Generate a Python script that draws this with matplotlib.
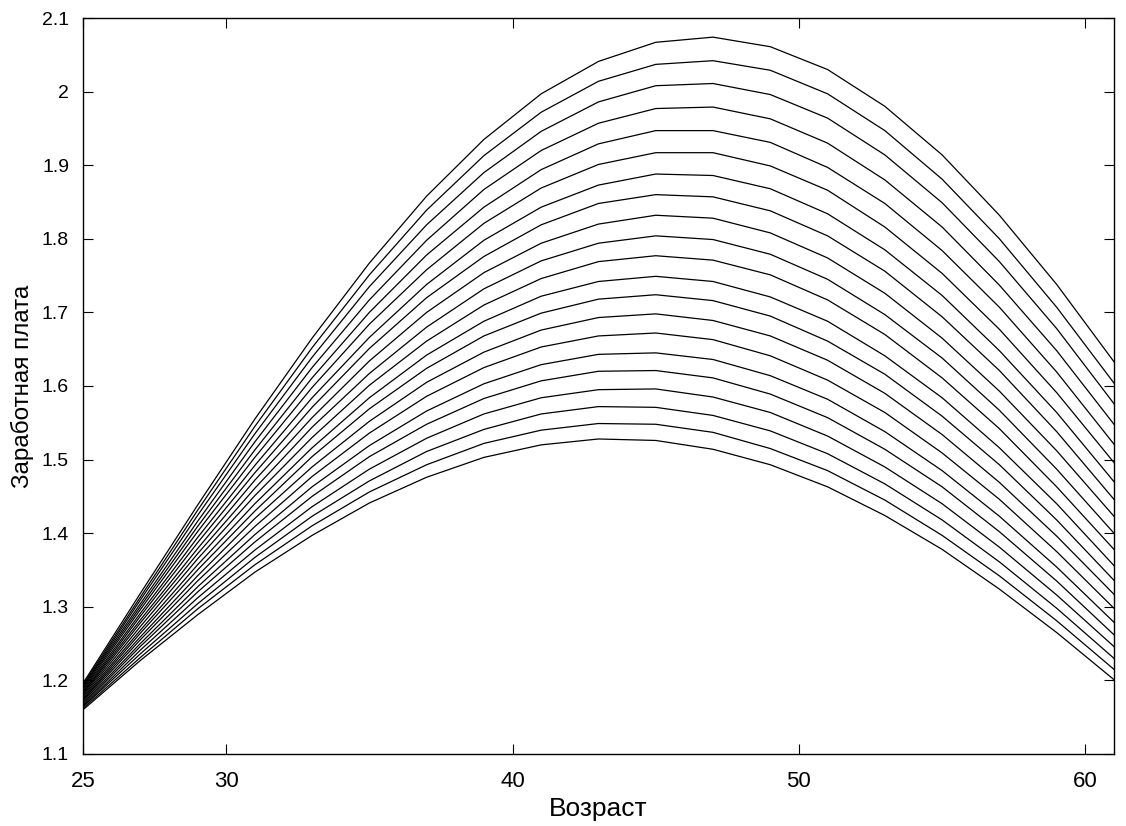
import matplotlib
matplotlib.use("Agg")
import matplotlib.pyplot as plt

ages = [25, 27, 29, 31, 33, 35, 37, 39, 41, 43, 45, 47, 49, 51, 53, 55, 57, 59, 61]

# wage profiles, bottom curve first
w01 = [1.160, 1.227, 1.289, 1.347, 1.397, 1.441, 1.476, 1.503, 1.520, 1.528, 1.526, 1.514, 1.493, 1.463, 1.424, 1.378, 1.324, 1.265, 1.201]
w02 = [1.162, 1.231, 1.297, 1.357, 1.410, 1.456, 1.493, 1.522, 1.540, 1.549, 1.548, 1.537, 1.515, 1.485, 1.445, 1.397, 1.342, 1.281, 1.215]
w03 = [1.164, 1.236, 1.304, 1.367, 1.423, 1.471, 1.511, 1.541, 1.562, 1.572, 1.571, 1.560, 1.539, 1.508, 1.467, 1.418, 1.361, 1.298, 1.230]
w04 = [1.165, 1.241, 1.312, 1.377, 1.436, 1.487, 1.529, 1.562, 1.584, 1.595, 1.596, 1.585, 1.564, 1.532, 1.490, 1.440, 1.381, 1.316, 1.246]
w05 = [1.167, 1.246, 1.320, 1.388, 1.450, 1.504, 1.548, 1.583, 1.607, 1.620, 1.621, 1.611, 1.589, 1.557, 1.514, 1.463, 1.402, 1.335, 1.262]
w06 = [1.169, 1.250, 1.327, 1.398, 1.463, 1.519, 1.566, 1.603, 1.629, 1.643, 1.645, 1.636, 1.614, 1.582, 1.538, 1.485, 1.423, 1.354, 1.279]
w07 = [1.171, 1.255, 1.335, 1.409, 1.477, 1.536, 1.586, 1.625, 1.653, 1.668, 1.672, 1.663, 1.641, 1.608, 1.564, 1.509, 1.446, 1.375, 1.298]
w08 = [1.173, 1.259, 1.342, 1.420, 1.490, 1.552, 1.605, 1.646, 1.676, 1.693, 1.698, 1.689, 1.668, 1.635, 1.590, 1.534, 1.469, 1.396, 1.317]
w09 = [1.174, 1.264, 1.350, 1.430, 1.504, 1.569, 1.624, 1.668, 1.699, 1.718, 1.724, 1.716, 1.695, 1.661, 1.616, 1.559, 1.493, 1.418, 1.336]
w10 = [1.176, 1.268, 1.357, 1.440, 1.516, 1.584, 1.642, 1.688, 1.722, 1.742, 1.749, 1.742, 1.721, 1.688, 1.641, 1.584, 1.516, 1.440, 1.356]
w11 = [1.178, 1.273, 1.365, 1.451, 1.530, 1.601, 1.661, 1.710, 1.746, 1.769, 1.777, 1.771, 1.751, 1.717, 1.670, 1.611, 1.542, 1.463, 1.378]
w12 = [1.180, 1.278, 1.372, 1.461, 1.544, 1.617, 1.680, 1.732, 1.770, 1.794, 1.804, 1.799, 1.779, 1.745, 1.697, 1.638, 1.567, 1.487, 1.400]
w13 = [1.182, 1.282, 1.379, 1.472, 1.557, 1.634, 1.700, 1.754, 1.794, 1.820, 1.832, 1.828, 1.808, 1.774, 1.726, 1.665, 1.593, 1.512, 1.423]
w14 = [1.183, 1.287, 1.387, 1.482, 1.571, 1.651, 1.720, 1.776, 1.819, 1.848, 1.860, 1.857, 1.838, 1.804, 1.756, 1.694, 1.621, 1.538, 1.446]
w15 = [1.185, 1.291, 1.394, 1.492, 1.584, 1.666, 1.738, 1.798, 1.843, 1.873, 1.888, 1.886, 1.868, 1.834, 1.785, 1.723, 1.648, 1.564, 1.470]
w16 = [1.187, 1.296, 1.402, 1.503, 1.598, 1.684, 1.758, 1.821, 1.869, 1.901, 1.917, 1.917, 1.899, 1.866, 1.816, 1.753, 1.677, 1.591, 1.496]
w17 = [1.189, 1.300, 1.409, 1.513, 1.611, 1.700, 1.778, 1.843, 1.894, 1.929, 1.947, 1.947, 1.931, 1.897, 1.848, 1.784, 1.707, 1.619, 1.521]
w18 = [1.191, 1.304, 1.416, 1.524, 1.625, 1.717, 1.798, 1.867, 1.920, 1.957, 1.977, 1.979, 1.963, 1.930, 1.880, 1.816, 1.737, 1.648, 1.548]
w19 = [1.192, 1.309, 1.424, 1.535, 1.639, 1.735, 1.819, 1.890, 1.946, 1.986, 2.008, 2.011, 1.996, 1.964, 1.914, 1.849, 1.769, 1.678, 1.576]
w20 = [1.194, 1.313, 1.431, 1.545, 1.652, 1.751, 1.839, 1.913, 1.972, 2.014, 2.037, 2.042, 2.029, 1.997, 1.947, 1.881, 1.800, 1.707, 1.604]
w21 = [1.196, 1.318, 1.438, 1.555, 1.665, 1.767, 1.858, 1.935, 1.997, 2.041, 2.067, 2.074, 2.061, 2.030, 1.980, 1.914, 1.832, 1.738, 1.633]

profiles = [w01, w02, w03, w04, w05, w06, w07, w08, w09, w10, w11,
            w12, w13, w14, w15, w16, w17, w18, w19, w20, w21]

xticks = [25, 30, 40, 50, 60]
yticks = [1.1, 1.2, 1.3, 1.4, 1.5, 1.6, 1.7, 1.8, 1.9, 2.0, 2.1]
yticklabels = ["1.1", "1.2", "1.3", "1.4", "1.5", "1.6", "1.7", "1.8", "1.9", "2", "2.1"]

narrow = ["Liberation Sans Narrow", "Liberation Sans", "DejaVu Sans"]
plt.rcParams["font.family"] = ["Liberation Sans", "DejaVu Sans"]

fig = plt.figure(figsize=(11.26, 8.26), dpi=100)
ax = fig.add_axes([0.0737, 0.0872, 0.9156, 0.8910])

for w in profiles:
    ax.plot(ages, w, color="black", linewidth=0.9)

ax.set_xlim(25, 61)
ax.set_ylim(1.1, 2.1)
ax.set_xticks(xticks)
ax.set_xticklabels([str(t) for t in xticks], family=narrow, fontsize=16)
ax.set_yticks(yticks)
ax.set_yticklabels(yticklabels, fontsize=14)

ax.tick_params(direction="in", length=7, width=0.8, top=True, right=True)
ax.tick_params(axis="x", pad=12)
ax.tick_params(axis="y", pad=10)
for s in ax.spines.values():
    s.set_linewidth(1.0)

ax.set_xlabel("Возраст", family=narrow, fontsize=19, labelpad=4)
ax.set_ylabel("Заработная плата", family=narrow, fontsize=17.5, labelpad=6)

fig.savefig("out.png", dpi=100)
